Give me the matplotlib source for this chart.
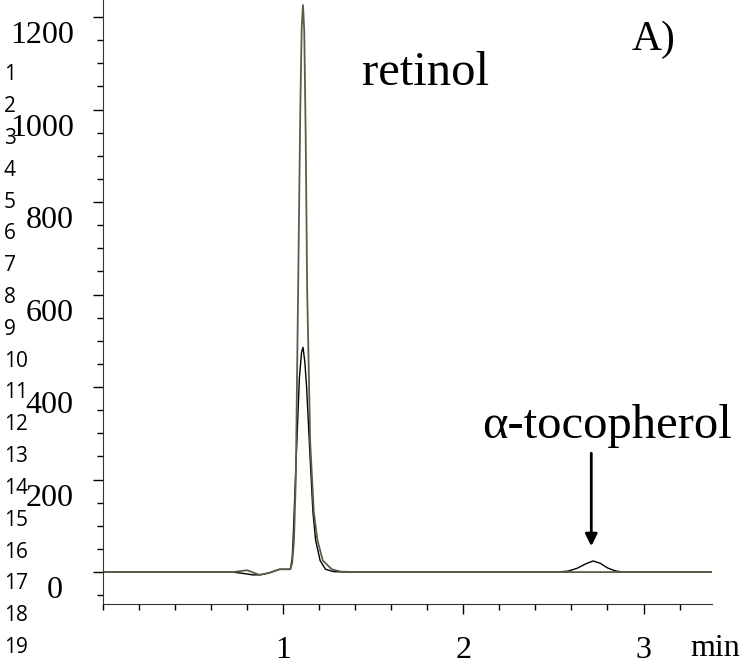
import matplotlib.pyplot as plt
import matplotlib.transforms as mtransforms
from matplotlib.ticker import MultipleLocator

# retention time (min) and detector signal
# trace with the tall retinol peak
t_a = [0.00, 0.40, 0.72, 0.76, 0.80, 0.84, 0.87, 0.92, 0.98, 1.04, 1.05,
       1.06, 1.07, 1.083, 1.095, 1.103, 1.11, 1.117, 1.125, 1.133, 1.15,
       1.17, 1.19, 1.22, 1.27, 1.32, 1.40, 2.00, 2.80, 3.38]
sig_a = [0, 0, 0, 2, 4, -2, -6, -2, 6, 6, 20,
         69, 200, 613, 1000, 1180, 1226, 1170, 940, 613, 280,
         130, 69, 25, 6, 1, 0, 0, 0, 0]

# trace with the smaller retinol peak and the tocopherol peak
t_b = [0.00, 0.40, 0.72, 0.78, 0.83, 0.87, 0.92, 0.98, 1.04, 1.05,
       1.055, 1.072, 1.09, 1.102, 1.11, 1.12, 1.13, 1.15, 1.165, 1.18,
       1.205, 1.235, 1.28, 1.35, 2.00, 2.52, 2.58, 2.63, 2.68, 2.72, 2.76,
       2.80, 2.84, 2.88, 2.95, 3.38]
sig_b = [0, 0, 0, -3, -6, -6, -2, 6, 6, 30,
         69, 243, 420, 475, 486, 455, 400, 243, 130, 69,
         25, 6, 1, 0, 0, 0, 2, 8, 18, 24, 19,
         9, 3, 0, 0, 0]

y_ticks = [0, 200, 400, 600, 800, 1000, 1200]
x_ticks = [1, 2, 3]
row_numbers = [str(i) for i in range(1, 20)]

plt.rcParams['font.family'] = ['Liberation Serif', 'DejaVu Serif']

W, H = 750, 664
fig = plt.figure(figsize=(7.5, 6.64), dpi=100)
ax = fig.add_axes([103 / W, 60 / H, 609 / W, 604 / H])

ax.plot(t_b, sig_b, color='black', lw=1.0)
ax.plot(t_a, sig_a, color='#5f5b47', lw=1.3)

ax.set_xlim(0, 3.38)
ax.set_ylim(-69, 1237)

ax.spines['top'].set_visible(False)
ax.spines['right'].set_visible(False)
ax.spines['left'].set_color('#333333')
ax.spines['bottom'].set_color('#333333')

ax.set_yticks(y_ticks)
ax.set_yticklabels([str(v) for v in y_ticks], fontsize=23)
ax.yaxis.set_minor_locator(MultipleLocator(50))
ax.set_xticks(x_ticks)
ax.set_xticklabels([str(v) for v in x_ticks], fontsize=23)
ax.xaxis.set_minor_locator(MultipleLocator(0.2))
ax.tick_params(axis='y', which='major', direction='out', length=7, width=1, pad=14)
ax.tick_params(axis='y', which='minor', direction='out', length=4, width=1)
ax.tick_params(axis='x', which='major', direction='out', length=7, width=1, pad=16)
ax.tick_params(axis='x', which='minor', direction='out', length=4, width=1)

# the y labels sit a bit below their ticks in the original, "0" further left
for lab, v in zip(ax.get_yticklabels(), y_ticks):
    dx = -11 / 100 if v == 0 else 0
    shift = mtransforms.ScaledTranslation(dx, -15 / 100, fig.dpi_scale_trans)
    lab.set_transform(lab.get_transform() + shift)

fig.text(690 / W, 1 - 656 / H, 'min', fontsize=23, ha='left', va='baseline')
fig.text(362 / W, 1 - 85 / H, 'retinol', fontsize=35, ha='left', va='baseline')
fig.text(632 / W, 1 - 50 / H, 'A)', fontsize=30, ha='left', va='baseline')
fig.text(482 / W, 1 - 438 / H, 'α-tocopherol', fontsize=35, ha='left', va='baseline')
ax.annotate('', xy=(2.71, 56), xytext=(2.71, 257),
            arrowprops=dict(arrowstyle='-|>', color='black', lw=2,
                            mutation_scale=18, shrinkA=0, shrinkB=0))

for i, r in enumerate(row_numbers):
    fig.text(4 / W, 1 - (75 + i * 31.8) / H, r, fontsize=15,
             family=['Open Sans', 'DejaVu Sans'], ha='left', va='center')

fig.savefig('out.png', dpi=100)
